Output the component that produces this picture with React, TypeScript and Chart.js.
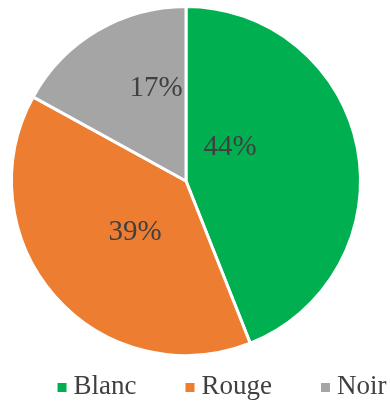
import React, { useEffect, useRef } from "react";
import { Chart, registerables } from "chart.js";

Chart.register(...registerables);

// ---- data ----
const categories = ["Blanc", "Rouge", "Noir"];
const shares = [44, 39, 17];
const colors = ["#00B050", "#ED7D31", "#A5A5A5"];

// ---- label placement (fraction of slice angle, fraction of radius) ----
const labelAngleFrac = [0.335, 0.474, 0.706];
const labelRadiusFrac = [0.316, 0.414, 0.557];

const TEXT_COLOR = "#404040";
const FONT = "'Liberation Serif', 'Times New Roman', serif";

const sliceLabelPlugin = {
  id: "sliceLabels",
  afterDatasetsDraw(chart: any) {
    const ctx = chart.ctx;
    const meta = chart.getDatasetMeta(0);
    ctx.save();
    ctx.font = `29px ${FONT}`;
    ctx.fillStyle = TEXT_COLOR;
    ctx.textAlign = "center";
    ctx.textBaseline = "middle";
    meta.data.forEach((arc: any, i: number) => {
      const p = arc.getProps(["x", "y", "startAngle", "endAngle", "outerRadius"], true);
      const a = p.startAngle + (p.endAngle - p.startAngle) * labelAngleFrac[i];
      const r = p.outerRadius * labelRadiusFrac[i];
      ctx.fillText(`${chart.data.datasets[0].data[i]}%`, p.x + Math.cos(a) * r, p.y + Math.sin(a) * r);
    });
    ctx.restore();
  },
};

const bottomLegendPlugin = {
  id: "bottomLegend",
  afterDraw(chart: any) {
    const ctx = chart.ctx;
    const labels: string[] = chart.data.labels;
    const bg: string[] = chart.data.datasets[0].backgroundColor;
    ctx.save();
    ctx.font = `27px ${FONT}`;
    ctx.textBaseline = "alphabetic";
    ctx.textAlign = "left";
    const box = 9;
    const gap = 7;
    const itemGap = 49;
    const widths = labels.map((l) => ctx.measureText(l).width);
    const total = widths.reduce((s, w) => s + box + gap + w, 0) + itemGap * (labels.length - 1);
    const centerX = 222;
    const baseline = 394;
    let x = centerX - total / 2;
    labels.forEach((l, i) => {
      ctx.fillStyle = bg[i];
      ctx.fillRect(x, baseline - 11, box, box);
      ctx.fillStyle = TEXT_COLOR;
      ctx.fillText(l, x + box + gap, baseline);
      x += box + gap + widths[i] + itemGap;
    });
    ctx.restore();
  },
};

export default function App() {
  const canvasRef = useRef<HTMLCanvasElement | null>(null);

  useEffect(() => {
    if (!canvasRef.current) return;
    const chart = new Chart(canvasRef.current, {
      type: "pie",
      data: {
        labels: categories,
        datasets: [
          {
            data: shares,
            backgroundColor: colors,
            borderColor: "#ffffff",
            borderWidth: 3,
          },
        ],
      },
      options: {
        responsive: false,
        animation: false,
        layout: { padding: { top: 5, bottom: 44, left: 0, right: 18 } },
        plugins: {
          legend: { display: false },
          tooltip: { enabled: false },
        },
      },
      plugins: [sliceLabelPlugin, bottomLegendPlugin],
    });
    return () => chart.destroy();
  }, []);

  return (
    <div style={{ position: "absolute", left: 0, top: 0, width: 390, height: 401, background: "#fff" }}>
      <canvas ref={canvasRef} width={390} height={401} style={{ display: "block" }} />
    </div>
  );
}
